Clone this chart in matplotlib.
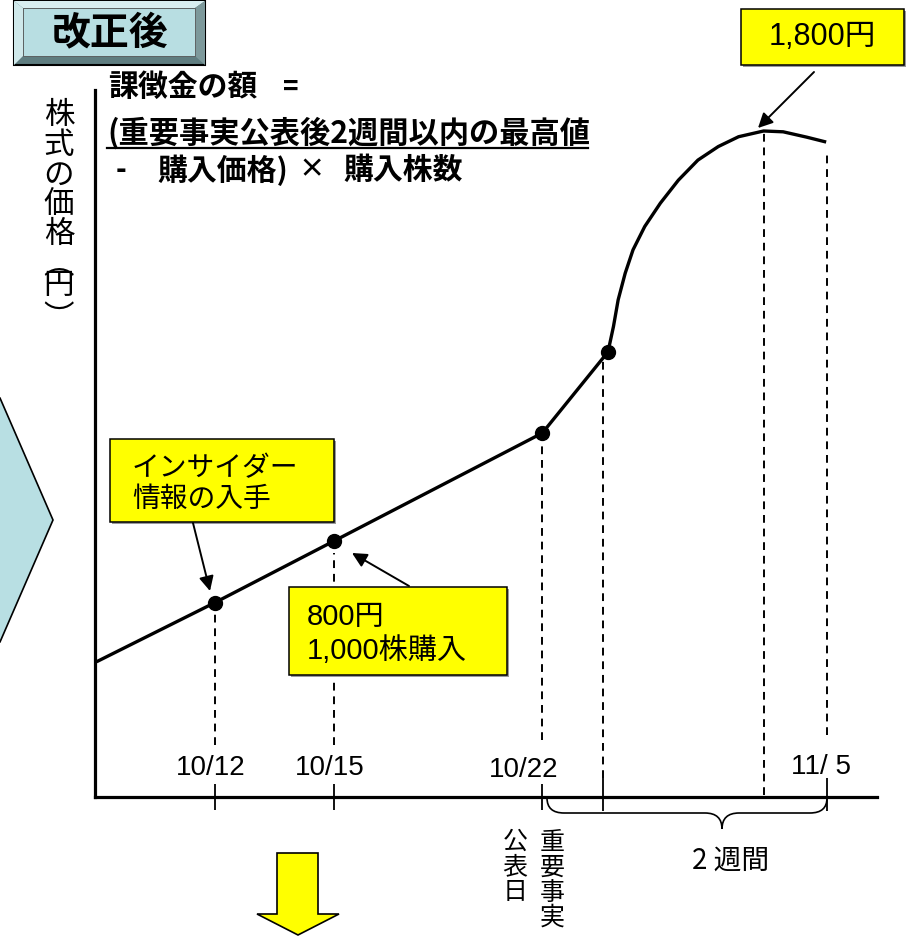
import matplotlib.pyplot as plt
from matplotlib.patches import Polygon, Rectangle, FancyArrowPatch, PathPatch
from matplotlib.path import Path

plt.rcParams['font.family'] = ['Noto Sans CJK JP', 'DejaVu Sans']
LATIN = ['Liberation Sans', 'Noto Sans CJK JP']

# time axis in schematic units (0-100), price in yen
date_labels = ['10/12', '10/15', '10/22', '11/ 5']
date_x = [15.3, 30.6, 57.2, 93.6]
start2w_x = 64.9          # start of the 2-week window
peak_x = 85.5

price_x = [0.2, 15.3, 30.6, 57.2, 65.6, 66.3, 66.9, 67.8, 68.8, 70.3, 72.3,
           74.6, 77.1, 79.7, 82.3, 85.5, 88.0, 91.0, 93.5]
price_y = [505, 649, 800, 1063, 1261, 1323, 1388, 1453, 1510, 1567, 1624,
           1680, 1729, 1762, 1786, 1800, 1798, 1785, 1773]
dot_idx = [1, 2, 3, 4]

guide_x = [15.3, 30.6, 57.2, start2w_x, peak_x, 93.6]
guide_top = [627, 771, 1039, 1241, 1800, 1754]
guide_bottom = [303, 303, 315, 222, 180, 327]

fig = plt.figure(figsize=(9.07, 9.47), dpi=100)

# main chart
ax = fig.add_axes([95/907, 150/947, 782/907, 707/947])
ax.set_xlim(0, 100)
ax.set_ylim(175, 1900)
ax.patch.set_visible(False)
for s in ['top', 'right']:
    ax.spines[s].set_visible(False)
for s in ['left', 'bottom']:
    ax.spines[s].set_linewidth(2.3)
ax.set_xticks([])
ax.set_yticks([])

ax.plot(price_x, price_y, color='black', lw=2.4, solid_capstyle='butt',
        solid_joinstyle='round')
ax.plot([price_x[i] for i in dot_idx], [price_y[i] for i in dot_idx], 'o',
        color='black', ms=10)
ax.vlines(guide_x, guide_bottom, guide_top, colors='black', lw=1.4,
          linestyles=(0, (4, 3)))
ax.vlines(date_x[:3], 144, 207, colors='black', lw=1.3, clip_on=False)
ax.vlines([start2w_x, date_x[3]], 141, 222, colors='black', lw=1.3, clip_on=False)

# overlay in pixel coordinates for the annotations
bg = fig.add_axes([0, 0, 1, 1], zorder=5)
bg.set_xlim(0, 907)
bg.set_ylim(947, 0)
bg.axis('off')
bg.patch.set_visible(False)

# beveled title box
bg.add_patch(Rectangle((14, 1), 191, 64, fc='#5f7d80', ec='black', lw=1.5))
bg.add_patch(Polygon([(14, 1), (205, 1), (195, 8), (23, 8)], fc='#d8eef0', ec='none'))
bg.add_patch(Polygon([(14, 1), (23, 8), (23, 56), (14, 65)], fc='#cfe8ea', ec='none'))
bg.add_patch(Polygon([(205, 1), (205, 65), (195, 56), (195, 8)], fc='#7d999b', ec='none'))
bg.add_patch(Rectangle((23, 8), 172, 48, fc='#b8dee2', ec='#555555', lw=0.6))
bg.text(110, 34, '改正後', fontsize=28, fontweight='bold', ha='center', va='center')

# left chevron
bg.add_patch(Polygon([(-5, 398), (0, 398), (53, 520), (0, 642), (-5, 642)],
                     fc='#b8dfe3', ec='black', lw=1.2))

# formula
bg.text(108, 87, '課徴金の額', fontsize=21.5, fontweight='bold', va='center')
bg.text(291, 87, '=', fontsize=19, fontweight='bold', ha='center', va='center')
bg.text(107, 133, '(重要事実公表後2週間以内の最高値', fontsize=21.8, fontweight='bold',
        va='center')
bg.plot([107, 588], [148, 148], color='black', lw=1.6)
bg.text(121, 170, '-', fontsize=21, fontweight='bold', ha='center', va='center')
bg.text(157, 170, '購入価格)', fontsize=21.5, fontweight='bold', va='center')
bg.text(312, 170, '×', fontsize=19, fontweight='bold', ha='center', va='center')
bg.text(343, 170, '購入株数', fontsize=21.5, fontweight='bold', va='center')

# y-axis label written vertically
bg.text(59, 175, '株\n式\nの\n価\n格', fontsize=22, ha='center', va='center',
        linespacing=0.95)
bg.text(59, 265, '︵', fontsize=22, ha='center', va='center')
bg.text(59, 285, '円', fontsize=22, ha='center', va='center')
bg.text(59, 318, '︶', fontsize=22, ha='center', va='center')

# date labels
date_lab_px = [(211, 768), (330, 768), (524, 770), (821, 767)]
for lab, (xx, yy) in zip(date_labels, date_lab_px):
    bg.text(xx, yy, lab, fontsize=20, family=LATIN, ha='center', va='center')

# vertical labels under the axis
bg.text(515, 867, '公\n表\n日', fontsize=18, ha='center', va='center', linespacing=0.95)
bg.text(552, 880, '重\n要\n事\n実', fontsize=18, ha='center', va='center', linespacing=0.95)

# brace for 2 weeks
verts = [(547, 798), (547, 813), (564, 813), (705, 813), (722, 813), (722, 829),
         (722, 813), (739, 813), (810, 813), (827, 813), (827, 798)]
codes = [Path.MOVETO, Path.CURVE3, Path.CURVE3, Path.LINETO, Path.CURVE3, Path.CURVE3,
         Path.CURVE3, Path.CURVE3, Path.LINETO, Path.CURVE3, Path.CURVE3]
bg.add_patch(PathPatch(Path(verts, codes), fc='none', ec='black', lw=1.2))
bg.text(731, 861, '2 週間', fontsize=20, ha='center', va='center')

# yellow callouts
def callout(x0, y0, x1, y1):
    bg.add_patch(Rectangle((x0 + 2, y0 + 2), x1 - x0, y1 - y0, fc='#9a9a9a', ec='none'))
    bg.add_patch(Rectangle((x0, y0), x1 - x0, y1 - y0, fc='#ffff00', ec='black', lw=1.1))

def arrow(p0, p1):
    bg.add_patch(FancyArrowPatch(p0, p1, arrowstyle='-|>', mutation_scale=22,
                                 color='black', lw=1.4, shrinkA=0, shrinkB=0))

callout(110, 439, 334, 522)
bg.text(132, 468, 'インサイダー', fontsize=20, va='center')
bg.text(132, 499, '情報の入手', fontsize=20, va='center')
arrow((193, 523), (210, 591))

callout(289, 587, 507, 675)
bg.text(307, 617, '800円', fontsize=21, family=LATIN, va='center')
bg.text(307, 651, '1,000株購入', fontsize=21, family=LATIN, va='center')
arrow((409, 586), (352, 553))

callout(741, 9, 904, 65)
bg.text(822, 37, '1,800円', fontsize=22, family=LATIN, ha='center', va='center')
arrow((814, 72), (758, 128))

# yellow down arrow
bg.add_patch(Polygon([(277, 853), (318, 853), (318, 914), (339, 914), (298, 935),
                      (257, 914), (277, 914)], fc='#ffff00', ec='black', lw=1.2))

fig.savefig('out.png', dpi=100)
